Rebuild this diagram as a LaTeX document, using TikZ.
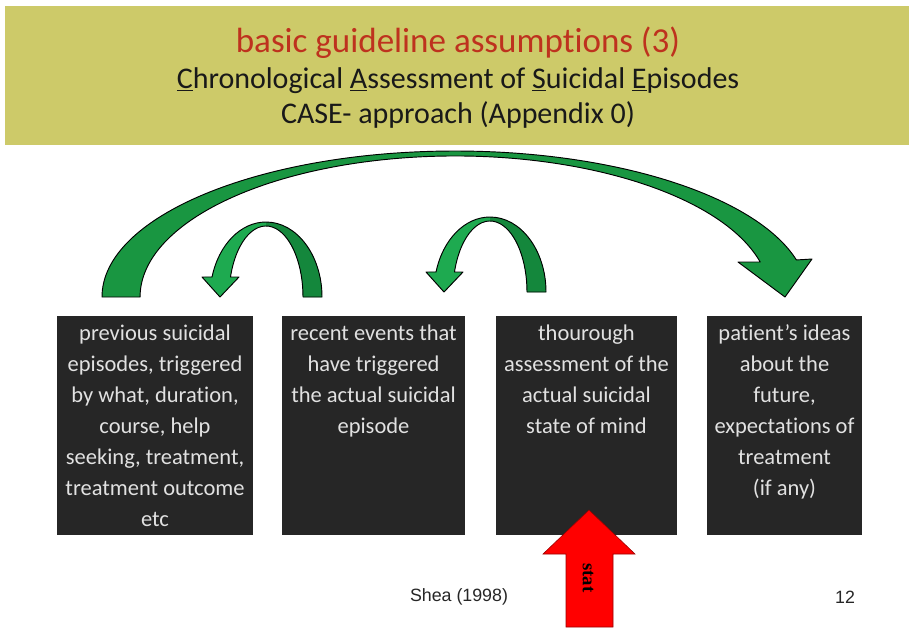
\documentclass[tikz,border=0pt]{standalone}
\usepackage{fontspec}
\setmainfont{Carlito}[Ligatures=NoCommon]
\newfontfamily\notefont{Liberation Sans}
\newfontfamily\statfont{Liberation Serif}
\usetikzlibrary{positioning}
\definecolor{BandOlive}{RGB}{205, 202, 105}
\definecolor{TitleRed}{RGB}{190, 50, 30}
\definecolor{BoxDark}{RGB}{38, 38, 38}
\definecolor{BoxText}{RGB}{225, 225, 225}
\definecolor{GreenFront}{RGB}{30, 170, 80}
\definecolor{GreenBack}{RGB}{20, 135, 60}
\definecolor{GreenArc}{RGB}{25, 150, 65}
\definecolor{StatRed}{RGB}{255, 0, 0}

% small turning arrow, origin at the centre of its base
\newcommand{\turnarrowpath}{(56,0) arc[start angle=0, end angle=164.5, x radius=56, y radius=75]
    -- (-64,20) -- (-46,0) -- (-27,20) -- (-35.5,20)
    arc[start angle=163.64, end angle=0, x radius=37, y radius=71] -- cycle}

\tikzset{
    turnarrow/.pic={
        \fill[GreenFront] \turnarrowpath;
        \begin{scope}
            \clip (0,-5) rectangle (70,90);
            \fill[GreenBack] \turnarrowpath;
        \end{scope}
        \draw[black, line width=0.8pt, line join=round] \turnarrowpath;
    }
}

\begin{document}
\begin{tikzpicture}[
    x=0.03cm,
    y=0.03cm,
    titlemain/.style={
        anchor=base,
        text=TitleRed,
        font=\fontsize{29.9}{36}\selectfont
    },
    titlesub/.style={
        anchor=base,
        text=black!90,
        font=\fontsize{25.6}{31}\selectfont
    },
    stagebox/.style={
        rectangle,
        fill=BoxDark,
        minimum height=6.57cm,
        inner sep=0pt
    },
    stagetext/.style={
        align=center,
        inner sep=0pt,
        text=BoxText,
        font=\fontsize{19.2}{26.5}\selectfont
    },
    footnote/.style={
        text=black!85,
        font=\notefont\fontsize{15.2}{18}\selectfont
    }
]
\useasboundingbox (0,0) rectangle (909,-631);
\fill[white] (0,0) rectangle (909,-631);
% -------------------------------------------------------------
% TITLE BAND
% -------------------------------------------------------------
\fill[BandOlive] (5,-6) rectangle (909,-145);
\node[titlemain] (titleMain) at (458,-52)
{basic guideline assumptions (3)};
\node[titlesub] (titleCase) at (458,-88.5)
{\underline{C}hronological \underline{A}ssessment of \underline{S}uicidal \underline{E}pisodes};
\node[titlesub] (titleApproach) at (458,-123.5)
{CASE- approach (Appendix 0)};
% -------------------------------------------------------------
% STAGE BOXES
% -------------------------------------------------------------
\node[stagebox, minimum width=5.88cm] (previousBox) at (155,-425.5) {};
\node[stagebox, minimum width=5.49cm] (recentBox) at (373.5,-425.5) {};
\node[stagebox, minimum width=5.43cm] (currentBox) at (586.5,-425.5) {};
\node[stagebox, minimum width=4.65cm] (futureBox) at (784.5,-425.5) {};
\node[stagetext, below=0.26cm of previousBox.north] (previousText)
{previous suicidal\\episodes, triggered\\by what, duration,\\course, help\\seeking, treatment,\\treatment outcome\\etc};
\node[stagetext, below=0.26cm of recentBox.north] (recentText)
{recent events that\\have triggered\\the actual suicidal\\episode};
\node[stagetext, below=0.26cm of currentBox.north] (currentText)
{thourough\\assessment of the\\actual suicidal\\state of mind};
\node[stagetext, below=0.26cm of futureBox.north] (futureText)
{patient’s ideas\\about the\\future,\\expectations of\\treatment\\(if any)};
% -------------------------------------------------------------
% BIG ARC: PAST TO FUTURE
% -------------------------------------------------------------
\draw[fill=GreenArc, draw=black, line width=0.8pt, line join=round]
(102,-297)
arc[start angle=180, end angle=14.7, x radius=353, y radius=146]
-- (812,-259) -- (785,-297) -- (738,-262) -- (760.2,-262)
arc[start angle=14.37, end angle=180, x radius=315, y radius=141]
-- cycle;
% -------------------------------------------------------------
% SMALL TURNING ARROWS
% -------------------------------------------------------------
\pic at (266,-297) {turnarrow};
\pic at (490,-292) {turnarrow};
% -------------------------------------------------------------
% STAT ARROW
% -------------------------------------------------------------
\draw[fill=StatRed, draw=StatRed!60!black, line width=0.5pt]
(589,-510) -- (635,-554) -- (613,-554) -- (613,-627)
-- (566,-627) -- (566,-554) -- (543,-554) -- cycle;
\node[rotate=-90, font=\statfont\bfseries\fontsize{16}{18}\selectfont, inner sep=0pt] (statLabel) at (588,-578) {stat};
% -------------------------------------------------------------
% FOOTER
% -------------------------------------------------------------
\node[footnote] (sourceNote) at (459,-597) {Shea (1998)};
\node[footnote] (pageNumber) at (845,-597) {12};
\end{tikzpicture}
\end{document}
